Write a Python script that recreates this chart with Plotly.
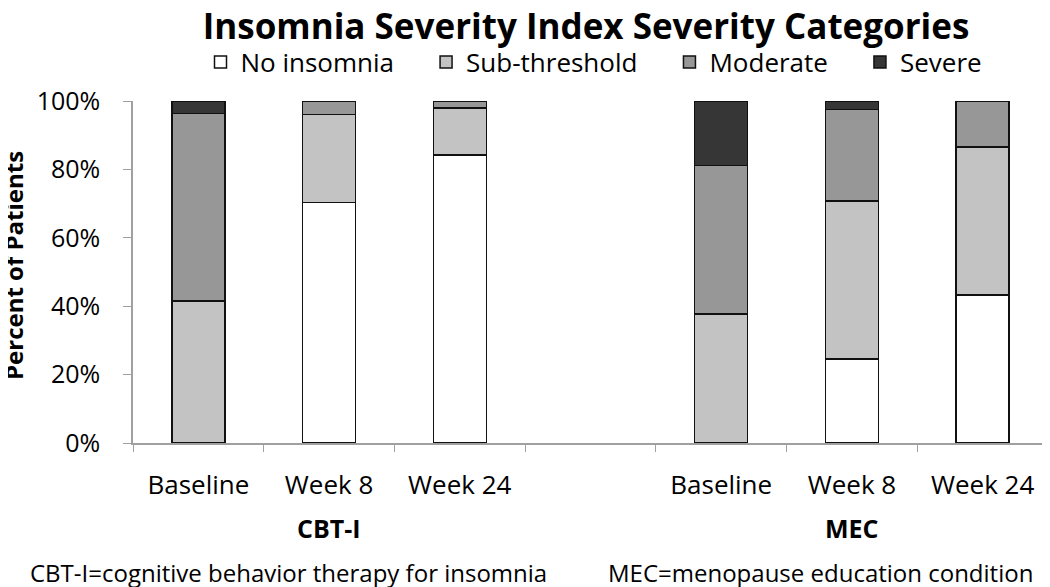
import plotly.graph_objects as go

# Categories (zero-width spaces keep duplicate labels distinct)
categories = ["Baseline", "Week 8", "Week 24", "\u200b",
              "Baseline\u200b", "Week 8\u200b", "Week 24\u200b"]
tick_labels = ["Baseline", "Week 8", "Week 24", "", "Baseline", "Week 8", "Week 24"]

no_insomnia   = [0.0,   0.703, 0.842, None, 0.0,   0.245, 0.433]
sub_threshold = [0.415, 0.257, 0.137, None, 0.377, 0.463, 0.433]
moderate      = [0.549, 0.040, 0.021, None, 0.434, 0.267, 0.134]
severe        = [0.036, 0.0,   0.0,   None, 0.189, 0.025, 0.0]

series_names = ["No insomnia", "Sub-threshold", "Moderate", "Severe"]
series_values = [no_insomnia, sub_threshold, moderate, severe]
series_colors = ["#ffffff", "#c3c3c3", "#979797", "#363636"]

group_labels = ["CBT-I", "MEC"]
footnotes = ["CBT-I=cognitive behavior therapy for insomnia",
             "MEC=menopause education condition"]

FONT = "Open Sans"
# page body has an 8px margin; figure is sized/placed to compensate
W, H = 1042, 579
L, R, T, B = 125, 2, 93, 144
PW = W - L - R
PH = H - T - B

GAP = "\u00a0" * 4
fig = go.Figure()
for i, (name, vals, col) in enumerate(zip(series_names, series_values, series_colors)):
    fig.add_trace(go.Bar(
        x=categories, y=vals, name=name + (GAP if i < 3 else ""),
        marker=dict(color=col, line=dict(color="#111111", width=1.5)),
        width=0.405,
    ))

fig.update_layout(
    barmode="stack",
    width=W, height=H,
    margin=dict(l=L, r=R, t=T, b=B),
    paper_bgcolor="white", plot_bgcolor="white",
    font=dict(family=FONT, size=25, color="#000000"),
    title=dict(text="<b>Insomnia Severity Index Severity Categories</b>",
               x=578 / W, xanchor="center", y=1 - 19 / H, yanchor="middle",
               font=dict(family=FONT, size=35, color="#000000")),
    showlegend=True,
    legend=dict(orientation="h", x=(594 - 133) / PW, xanchor="center",
                y=1 + 39 / PH, yanchor="middle",
                font=dict(family=FONT, size=26), traceorder="normal",
                itemwidth=30, bgcolor="rgba(0,0,0,0)"),
    xaxis=dict(type="category", categoryorder="array", categoryarray=categories,
               tickvals=categories, ticktext=tick_labels,
               tickson="boundaries", ticks="outside", ticklen=7, tickcolor="#a0a0a0",
               showline=True, linecolor="#a0a0a0", linewidth=1.5,
               showgrid=False, zeroline=False, automargin=False,
               ticklabelstandoff=18,
               tickfont=dict(family=FONT, size=26)),
    yaxis=dict(range=[0, 1], tickformat=".0%", dtick=0.2, tick0=0,
               ticks="outside", ticklen=8, tickcolor="#a0a0a0",
               showline=True, linecolor="#a0a0a0", linewidth=1.5,
               showgrid=False, zeroline=False, automargin=False,
               ticklabelstandoff=18,
               tickfont=dict(family=FONT, size=25)),
)

# y-axis title
fig.add_annotation(x=(13 - 133) / PW, y=(443 - 266) / PH, xref="paper", yref="paper",
                   text="<b>Percent of Patients</b>", textangle=-90, showarrow=False,
                   xanchor="center", yanchor="middle",
                   font=dict(family=FONT, size=24))

# group labels
for lbl, xc in zip(group_labels, [1, 5]):
    fig.add_annotation(x=categories[xc], y=0, xref="x", yref="paper",
                       yshift=-85, text=f"<b>{lbl}</b>", showarrow=False,
                       font=dict(family=FONT, size=25), yanchor="middle")

# footnotes
fig.add_annotation(x=(28 - 133) / PW, y=(443 - 572) / PH, xref="paper", yref="paper",
                   text=footnotes[0], showarrow=False, xanchor="left", yanchor="middle",
                   font=dict(family=FONT, size=24))
fig.add_annotation(x=(1035 - 133) / PW, y=(443 - 572) / PH, xref="paper", yref="paper",
                   text=footnotes[1], showarrow=False, xanchor="right", yanchor="middle",
                   font=dict(family=FONT, size=24))

fig.write_html("out.html")
